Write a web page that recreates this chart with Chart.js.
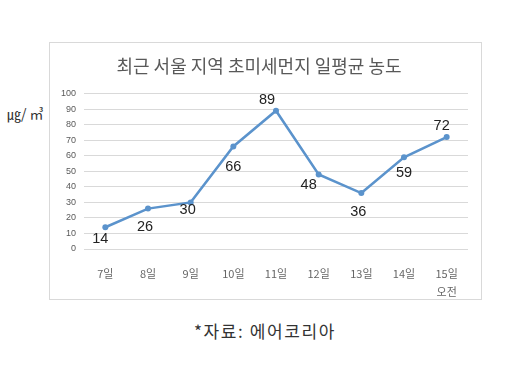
<!DOCTYPE html>
<html>
<head>
<meta charset="utf-8">
<script src="https://cdn.jsdelivr.net/npm/chart.js@4.4.1/dist/chart.umd.min.js"></script>
<style>
  html, body { margin: 0; padding: 0; background: #fff; }
  body { width: 530px; height: 366px; position: relative; overflow: hidden;
         font-family: 'Noto Sans CJK KR', 'Noto Sans', sans-serif; }
  #frame { position: absolute; left: 49px; top: 42px; width: 431px; height: 256px;
           border: 1px solid #d9d9d9; }
  #frame canvas { position: absolute; left: 0; top: 0; }
  #unit { position: absolute; left: 7px; top: 103px; font-size: 14px; color: #333; }
  #source { position: absolute; left: 0; width: 530px; top: 318px; text-align: center;
            font-size: 17px; letter-spacing: 1.6px; color: #333; }
</style>
</head>
<body>
<div id="unit">㎍/ ㎥</div>
<div id="frame"><canvas id="dust"></canvas></div>
<div id="source">*자료: 에어코리아</div>

<script>
'use strict';

// ─── data ───
const TITLE = '최근 서울 지역 초미세먼지 일평균 농도';
const DAYS = ['7일', '8일', '9일', '10일', '11일', '12일', '13일', '14일', ['15일', '오전']];
const PM25 = [14, 26, 30, 66, 89, 48, 36, 59, 72];
const Y_MIN = 0;
const Y_MAX = 100;
const Y_STEP = 10;

const LINE_COLOR = '#5b93cc';
const GRID_COLOR = '#d9d9d9';
const TICK_COLOR = '#595959';
const KR_FONT = "'Noto Sans CJK KR', 'Noto Sans', sans-serif";

// label placement around each point (dx, dy from the marker)
const LABEL_SHIFT = [
  [-5, 12], [-3, 18], [-3, 8], [0, 21], [-9, -11],
  [-10, 11], [-3, 19], [0, 16], [-5, -11],
];

// ─── value labels next to the markers ───
const valueLabels = {
  id: 'valueLabels',
  afterDatasetsDraw(chart) {
    const ctx = chart.ctx;
    const meta = chart.getDatasetMeta(0);
    ctx.save();
    ctx.font = "14.5px 'Liberation Sans', Arial, sans-serif";
    ctx.fillStyle = '#222';
    ctx.textAlign = 'center';
    ctx.textBaseline = 'middle';
    meta.data.forEach((pt, i) => {
      const [dx, dy] = LABEL_SHIFT[i] || [0, -12];
      ctx.fillText(String(PM25[i]), pt.x + dx, pt.y + dy);
    });
    ctx.restore();
  },
};

const canvas = document.getElementById('dust');
canvas.width = 431;
canvas.height = 256;

new Chart(canvas, {
  type: 'line',
  data: {
    labels: DAYS,
    datasets: [{
      data: PM25,
      borderColor: LINE_COLOR,
      backgroundColor: LINE_COLOR,
      borderWidth: 2.5,
      pointRadius: 3,
      pointBorderWidth: 0,
      tension: 0,
    }],
  },
  options: {
    responsive: false,
    animation: false,
    devicePixelRatio: 1,
    layout: { padding: { left: 0, right: 13, top: 0, bottom: 0 } },
    plugins: {
      legend: { display: false },
      tooltip: { enabled: false },
      title: {
        display: true,
        text: TITLE,
        color: TICK_COLOR,
        font: { family: KR_FONT, size: 18, weight: 'normal', lineHeight: 1.2 },
        padding: { top: 12, bottom: 17 },
      },
    },
    scales: {
      x: {
        offset: true,
        grid: { display: false },
        border: { display: false },
        ticks: {
          color: '#666',
          font: { family: KR_FONT, size: 11, lineHeight: 1.65 },
          padding: 8,
          maxRotation: 0,
          autoSkip: false,
        },
        afterFit(scale) { scale.height = 50; },
      },
      y: {
        min: Y_MIN,
        max: Y_MAX,
        grid: { color: GRID_COLOR, lineWidth: 1, drawTicks: false },
        border: { display: false },
        ticks: {
          stepSize: Y_STEP,
          color: TICK_COLOR,
          font: { family: "'Liberation Sans', Arial, sans-serif", size: 9 },
          padding: 8,
        },
        afterFit(scale) { scale.width = 34; },
      },
    },
  },
  plugins: [valueLabels],
});
</script>
</body>
</html>
